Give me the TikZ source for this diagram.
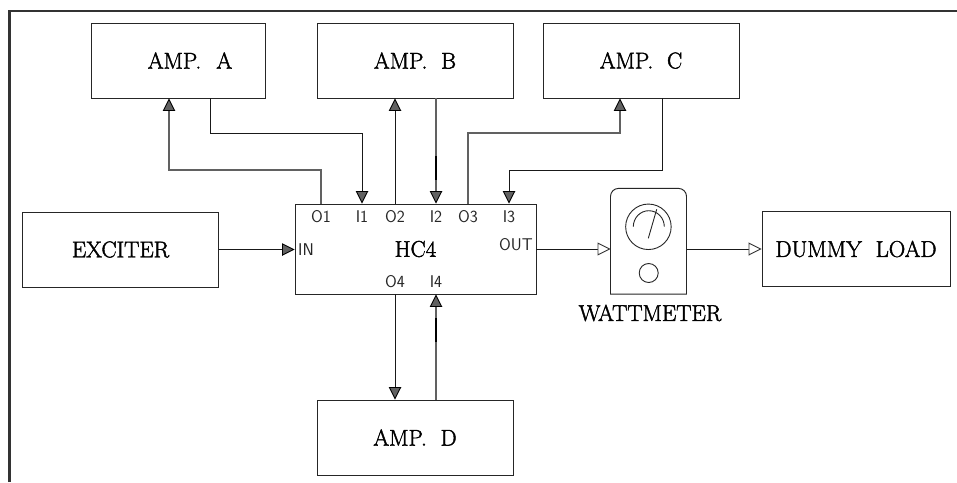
\documentclass[tikz,border=0pt]{standalone}
\usepackage{fontspec}
\usetikzlibrary{arrows.meta}
\newfontfamily\labfont[FakeBold=1.8]{Latin Modern Roman}
\newfontfamily\pinfont{Latin Modern Sans}
\tikzset{
  x=1pt,y=-1pt,
  block/.style={draw=black!85,line width=0.95pt,inner sep=0pt,minimum height=75pt,font=\labfont\fontsize{22.8}{24}\selectfont},
  wide/.style={block,minimum width=196pt},
  sig/.style={draw=black!62,line width=1.3pt},
  thin sig/.style={draw=black!90,line width=0.9pt},
  head/.style={-{Triangle[length=12.5pt,width=12.5pt,fill=black!62,color=black,line width=0.9pt]}},
  hollow/.style={-{Triangle[length=13pt,width=13pt,fill=white,color=black!80,line width=0.9pt]}},
  pin/.style={inner sep=0pt,text=black!85,font=\pinfont\fontsize{17}{18}\selectfont},
  heavy/.style={draw=black,line width=1.7pt},
}
\begin{document}
\begin{tikzpicture}
\useasboundingbox (0,0) rectangle (957,482);
\fill[white] (0,0) rectangle (957,482);
\draw[draw=black!80,line width=2.4pt] (9.5,482) -- (9.5,11) -- (957,11);

\node[block,minimum width=174pt,text width=150pt,align=center,xshift=0pt] (ampA) at (178,60.5) {\hspace*{24pt}AMP.\ \ A};
\node[wide] (ampB) at (415,60.5) {AMP.\ \ B};
\node[wide] (ampC) at (641,60.5) {AMP.\ \ C};
\node[wide] (ampD) at (415,437.5) {AMP.\ \ D};
\node[wide] (exciter) at (120.5,249.5) {EXCITER};
\node[block,minimum width=188pt] (load) at (856,249) {DUMMY\ \ LOAD};
\node[block,minimum width=241pt,minimum height=90pt] (hc) at (415.5,249) {HC4};

\node[pin] (o1) at (321,217) {O1};
\node[pin] (i1) at (362,217) {I1};
\node[pin] (o2) at (395,217) {O2};
\node[pin] (i2) at (436,217) {I2};
\node[pin] (o3) at (468,217) {O3};
\node[pin] (i3) at (509,217) {I3};
\node[pin] (in) at (306,250) {IN};
\node[pin] (out) at (516,245) {OUT};
\node[pin] (o4) at (395,282) {O4};
\node[pin] (i4) at (436,282) {I4};

% wattmeter
\node[minimum width=75.6pt,minimum height=105.4pt,inner sep=0pt] (wm) at (648.5,241.3) {};
\draw[draw=black!85,line width=0.95pt,rounded corners=8pt] (wm.south west) -- (wm.north west) -- (wm.north east) [sharp corners] -- (wm.south east) -- cycle;
\node[draw=black!85,line width=0.9pt,circle,minimum size=45.5pt,inner sep=0pt] (dial) at (648.4,226.8) {};
\node[draw=black!85,line width=0.9pt,circle,minimum size=19pt,inner sep=0pt] (knob) at (648.7,273) {};
\draw[draw=black!85,line width=0.9pt] (633.3,226.7) arc[start angle=180,end angle=0,x radius=15.5,y radius=-16];
\draw[draw=black!85,line width=0.9pt] (648.3,238.3) -- (656.7,209.3);
\node[inner sep=0pt,font=\labfont\fontsize{22.8}{24}\selectfont] (wmlabel) at (650,313) {WATTMETER};

% connectors to the amplifiers
\coordinate (xA) at (169,0);
\coordinate (xAout) at (210,0);
\coordinate (xC) at (620,0);
\coordinate (xCout) at (662,0);
\draw[sig,head] (hc.north -| o1) -- (o1 |- 0,170) -| (ampA.south -| xA);
\draw[thin sig,head] (ampA.south -| xAout) -- (xAout |- 0,133) -| (hc.north -| i1);
\draw[thin sig,head] (hc.north -| o2) -- (ampB.south -| o2);
\draw[sig,head] (ampB.south -| i2) -- (hc.north -| i2);
\draw[heavy] (i2 |- 0,156) -- (i2 |- 0,180);
\draw[sig,head] (hc.north -| o3) -- (o3 |- 0,133) -| (ampC.south -| xC);
\draw[thin sig,head] (ampC.south -| xCout) -- (xCout |- 0,170) -| (hc.north -| i3);
\draw[thin sig,head] (hc.south -| o4) -- (ampD.north -| o4);
\draw[sig,head] (ampD.north -| i4) -- (hc.south -| i4);
\draw[heavy] (i4 |- 0,318) -- (i4 |- 0,342);
\draw[thin sig,head] (exciter.east) -- (exciter.east -| hc.west);
\draw[thin sig,hollow] (hc.east) -- (hc.east -| wm.west);
\draw[thin sig,hollow] (hc.east -| wm.east) -- (hc.east -| load.west);
\end{tikzpicture}
\end{document}
